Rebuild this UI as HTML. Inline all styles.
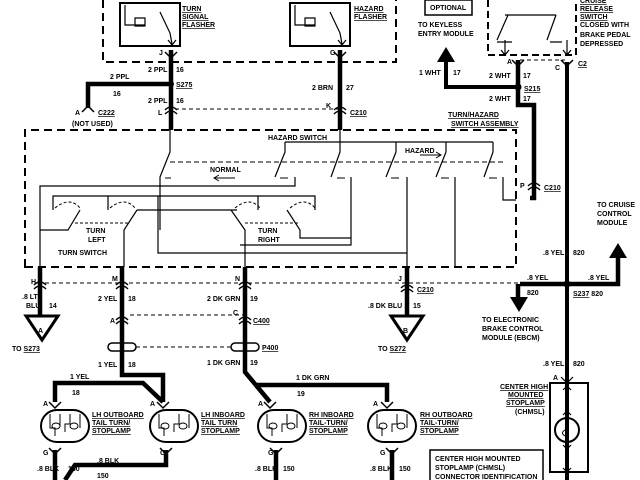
<!DOCTYPE html>
<html><head><meta charset="utf-8"><style>
html,body{margin:0;padding:0;background:#fff}
svg{display:block}
text{font-family:"Liberation Sans",sans-serif;font-weight:bold;font-size:7px;fill:#000}
.u{text-decoration:underline}
</style></head><body>
<svg width="640" height="480" viewBox="0 0 640 480" xmlns="http://www.w3.org/2000/svg">
<g fill="none" stroke="#000">
<path d="M103 0V62H396V0" stroke-width="2" stroke-dasharray="8,5"/>
<rect x="120" y="3" width="60" height="43" stroke-width="2"/>
<rect x="290" y="3" width="60" height="43" stroke-width="2"/>
<path d="M125 5V25H145M135 18h10v8h-10z" stroke-width="1.2"/>
<path d="M160 12L170 33L172 44M295 5V25H315M305 18h10v8h-10z M330 12L340 33L342 44" stroke-width="1.2"/>
<path d="M168 40l4 5 4-5M338 40l4 5 4-5" stroke-width="1.2"/>
<path d="M488 0V55H576V0" stroke-width="2" stroke-dasharray="7,4"/>
<path d="M505 15H556M508 15L497 40M556 15L547 40M497 42h15M550 42h12" stroke-width="1.2"/>
<path d="M505 40V55M567 40V55M501 50l4 5 4-5M563 50l4 5 4-5" stroke-width="1.2"/>
<path d="M520 60H565" stroke-width="1" stroke-dasharray="4,3"/>
<path d="M171 50V130M171 84H88V108M340 50V130M518 60V105H534V198H530" stroke-width="4.5"/>
<path d="M518 87H446V62" stroke-width="4"/>
<path d="M567 62V480" stroke-width="4"/>
<path d="M165 52l6 6 6-6M165 110q6-6 12 0M165 114q6-6 12 0M334 52l6 6 6-6M334 110q6-6 12 0M334 114q6-6 12 0M82 112l6-6 6 6M512 60l6 6 6-6M561 60l6 6 6-6M528 186q6-6 12 0M528 190q6-6 12 0" stroke-width="1.5"/>
<path d="M175 109H340" stroke-width="1" stroke-dasharray="4,3"/>
<path d="M25 267V130H516V267Z" stroke-width="2" stroke-dasharray="8,5"/>
<path d="M170 130V152L160 177V230M340 130V142H493M396 142V152M446 142V152M493 142V152" stroke-width="1.2"/>
<path d="M340 142V152L331 177M396 152L386 177M446 152L436 177M493 152L484 177M285 142V152L275 177M285 142H340" stroke-width="1.2"/>
<path d="M170 162H505" stroke-width="1" stroke-dasharray="5,3"/>
<path d="M165 178h6M280 178h8M337 178h8M391 178h8M441 178h8M489 178h8" stroke-width="1"/>
<path d="M295 177V186H40V267M351 177V245H240M407 177V267M455 177V267M503 177V200H516" stroke-width="1.2"/>
<path d="M53 210V196H315V210M108 196V210M258 196V210M137 210H237M158 196V253H407" stroke-width="1.2"/>
<path d="M137 210L124 230V267M80 210L68 230H40M231 210L245 230V267M287 210L300 230V238H351" stroke-width="1.2"/>
<path d="M55 208q15-12 25 0M110 208q15-12 25 0M235 208q15-12 25 0M290 208q15-12 25 0M75 223H130M245 223H300" stroke-width="1" stroke-dasharray="3,2"/>
<path d="M235 178H215M219 175l-5 3 5 3M420 155H440M436 152l5 3-5 3" stroke-width="1"/>
<path d="M40 267V316M122 267V375H163V402M245 267V372L270 402M55 402V383H143L163 402M255 385H387V402M407 267V316M520 284H618V258M518 284V298" stroke-width="4.5"/>
<path d="M45 283H600M130 315H245M136 347H232" stroke-width="1" stroke-dasharray="4,3"/>
<path d="M34 285q6-6 12 0M34 289q6-6 12 0M116 285q6-6 12 0M116 289q6-6 12 0M239 285q6-6 12 0M239 289q6-6 12 0M116 320q6-6 12 0M116 324q6-6 12 0M239 320q6-6 12 0M239 324q6-6 12 0M401 288q6-6 12 0M401 292q6-6 12 0" stroke-width="1.5"/>
<rect x="108" y="343" width="28" height="8" rx="4" stroke-width="1.5"/>
<rect x="231" y="343" width="28" height="8" rx="4" stroke-width="1.5"/>
<g stroke-width="2">
<rect x="41" y="410" width="48" height="32" rx="16"/>
<rect x="150" y="410" width="48" height="32" rx="16"/>
<rect x="258" y="410" width="48" height="32" rx="16"/>
<rect x="368" y="410" width="48" height="32" rx="16"/>
</g>
<g stroke-width="1">
<path d="M50 414V428h5l0 8M60 414V426M70 414v10h-5v8M80 414V428"/>
<ellipse cx="56" cy="426" rx="4" ry="3"/><ellipse cx="74" cy="426" rx="4" ry="3"/>
<path d="M159 414V428h5l0 8M179 414v10h-5v8M189 414V428"/>
<ellipse cx="165" cy="426" rx="4" ry="3"/><ellipse cx="183" cy="426" rx="4" ry="3"/>
<path d="M267 414V428h5l0 8M287 414v10h-5v8M297 414V428"/>
<ellipse cx="273" cy="426" rx="4" ry="3"/><ellipse cx="291" cy="426" rx="4" ry="3"/>
<path d="M377 414V428h5l0 8M397 414v10h-5v8M407 414V428"/>
<ellipse cx="383" cy="426" rx="4" ry="3"/><ellipse cx="401" cy="426" rx="4" ry="3"/>
</g>
<path d="M49 402l6 6 6-6M157 402l6 6 6-6M264 402l6 6 6-6M381 402l6 6 6-6M49 448l6 6 6-6M160 448l6 6 6-6M270 448l6 6 6-6M386 448l6 6 6-6" stroke-width="1.5"/>
<path d="M55 450V480M166 450V465H75L65 480M276 450V480M392 450V480" stroke-width="4.5"/>
<rect x="550" y="383" width="38" height="89" stroke-width="2"/>
<circle cx="567" cy="430" r="12" stroke-width="2"/>
<path d="M561 377l6 6 6-6M567 384V418M567 442V472M563 390l4-4 4 4M563 415l4-4 4 4M563 445l4 4 4-4M563 468l4 4 4-4" stroke-width="1.2"/>
<path d="M565 424q5 3 0 6q-5 3 0 6" stroke-width="1"/>
<rect x="430" y="450" width="113" height="32" stroke-width="1.5"/>
<rect x="425" y="0" width="47" height="15" stroke-width="1.5"/>
</g>
<g fill="#000">
<circle cx="171" cy="84" r="3"/><circle cx="518" cy="87" r="3.5"/><circle cx="567" cy="284" r="3.5"/>
<polygon points="437,62 455,62 446,47"/>
<polygon points="609,258 627,258 618,243"/>
<polygon points="510,297 528,297 519,312"/>
<polygon points="26,316 58,316 42,340" fill="none" stroke="#000" stroke-width="3"/>
<polygon points="391,316 423,316 407,340" fill="none" stroke="#000" stroke-width="3"/>
</g>
<text x="182" y="11" class="u">TURN</text><text x="182" y="19" class="u">SIGNAL</text><text x="182" y="27" class="u">FLASHER</text>
<text x="354" y="11" class="u">HAZARD</text><text x="354" y="19" class="u">FLASHER</text>
<text x="430" y="10">OPTIONAL</text>
<text x="418" y="27">TO KEYLESS</text><text x="418" y="36">ENTRY MODULE</text>
<text x="580" y="3" class="u">CRUISE</text><text x="580" y="11" class="u">RELEASE</text><text x="580" y="19" class="u">SWITCH</text><text x="580" y="27">CLOSED WITH</text><text x="580" y="37">BRAKE PEDAL</text><text x="580" y="46">DEPRESSED</text>
<text x="159" y="55">J</text><text x="330" y="55">G</text><text x="507" y="64">A</text><text x="555" y="70">C</text><text x="578" y="66" class="u">C2</text>
<text x="148" y="72">2 PPL</text><text x="176" y="72">16</text>
<text x="110" y="79">2 PPL</text><text x="113" y="96">16</text><text x="176" y="87" class="u">S275</text>
<text x="148" y="103">2 PPL</text><text x="176" y="103">16</text><text x="158" y="115">L</text>
<text x="75" y="115">A</text><text x="98" y="115" class="u">C222</text><text x="72" y="126">(NOT USED)</text>
<text x="312" y="90">2 BRN</text><text x="346" y="90">27</text><text x="326" y="108">K</text><text x="350" y="115" class="u">C210</text>
<text x="419" y="75">1 WHT</text><text x="453" y="75">17</text>
<text x="489" y="78">2 WHT</text><text x="523" y="78">17</text><text x="524" y="91" class="u">S215</text>
<text x="489" y="101">2 WHT</text><text x="523" y="101">17</text>
<text x="448" y="117" class="u">TURN/HAZARD</text><text x="451" y="126" class="u">SWITCH ASSEMBLY</text>
<text x="268" y="140">HAZARD SWITCH</text><text x="210" y="172">NORMAL</text><text x="405" y="153">HAZARD</text>
<text x="520" y="188">P</text><text x="544" y="190" class="u">C210</text>
<text x="597" y="207">TO CRUISE</text><text x="597" y="216">CONTROL</text><text x="597" y="225">MODULE</text>
<text x="86" y="233">TURN</text><text x="88" y="242">LEFT</text><text x="58" y="255">TURN SWITCH</text>
<text x="258" y="233">TURN</text><text x="258" y="242">RIGHT</text>
<text x="31" y="284">H</text><text x="112" y="281">M</text><text x="235" y="281">N</text><text x="398" y="281">J</text><text x="417" y="292" class="u">C210</text>
<text x="22" y="299">.8 LT</text><text x="26" y="308">BLU</text><text x="49" y="308">14</text>
<text x="98" y="301">2 YEL</text><text x="128" y="301">18</text>
<text x="207" y="301">2 DK GRN</text><text x="250" y="301">19</text>
<text x="368" y="308">.8 DK BLU</text><text x="413" y="308">15</text>
<text x="110" y="323">A</text><text x="233" y="315">C</text><text x="253" y="323" class="u">C400</text>
<text x="38" y="333">A</text><text x="403" y="333">B</text>
<text x="12" y="351">TO <tspan class="u">S273</tspan></text><text x="378" y="351">TO <tspan class="u">S272</tspan></text>
<text x="262" y="350" class="u">P400</text>
<text x="98" y="367">1 YEL</text><text x="128" y="367">18</text>
<text x="207" y="365">1 DK GRN</text><text x="250" y="365">19</text>
<text x="70" y="379">1 YEL</text><text x="72" y="395">18</text>
<text x="296" y="380">1 DK GRN</text><text x="297" y="396">19</text>
<text x="43" y="406">A</text><text x="150" y="406">A</text><text x="258" y="406">A</text><text x="373" y="406">A</text>
<text x="92" y="417" class="u">LH OUTBOARD</text><text x="92" y="425" class="u">TAIL TURN/</text><text x="92" y="433" class="u">STOPLAMP</text>
<text x="201" y="417" class="u">LH INBOARD</text><text x="201" y="425" class="u">TAIL TURN</text><text x="201" y="433" class="u">STOPLAMP</text>
<text x="309" y="417" class="u">RH INBOARD</text><text x="309" y="425" class="u">TAIL-TURN/</text><text x="309" y="433" class="u">STOPLAMP</text>
<text x="420" y="417" class="u">RH OUTBOARD</text><text x="420" y="425" class="u">TAIL-TURN/</text><text x="420" y="433" class="u">STOPLAMP</text>
<text x="43" y="455">G</text><text x="160" y="455">G</text><text x="268" y="455">G</text><text x="380" y="455">G</text>
<text x="37" y="471">.8 BLK</text><text x="68" y="471">150</text><text x="97" y="463">.8 BLK</text><text x="97" y="478">150</text>
<text x="255" y="471">.8 BLK</text><text x="283" y="471">150</text><text x="370" y="471">.8 BLK</text><text x="399" y="471">150</text>
<text x="543" y="255">.8 YEL</text><text x="573" y="255">820</text>
<text x="527" y="280">.8 YEL</text><text x="527" y="295">820</text>
<text x="588" y="280">.8 YEL</text><text x="573" y="296"><tspan class="u">S237</tspan> 820</text>
<text x="482" y="322">TO ELECTRONIC</text><text x="482" y="331">BRAKE CONTROL</text><text x="482" y="340">MODULE (EBCM)</text>
<text x="543" y="366">.8 YEL</text><text x="573" y="366">820</text><text x="553" y="380">A</text>
<text x="500" y="389" class="u">CENTER HIGH</text><text x="508" y="397" class="u">MOUNTED</text><text x="506" y="405" class="u">STOPLAMP</text><text x="515" y="414">(CHMSL)</text>
<text x="435" y="461">CENTER HIGH MOUNTED</text><text x="435" y="470">STOPLAMP (CHMSL)</text><text x="435" y="479">CONNECTOR IDENTIFICATION</text>
</svg>
</body></html>
